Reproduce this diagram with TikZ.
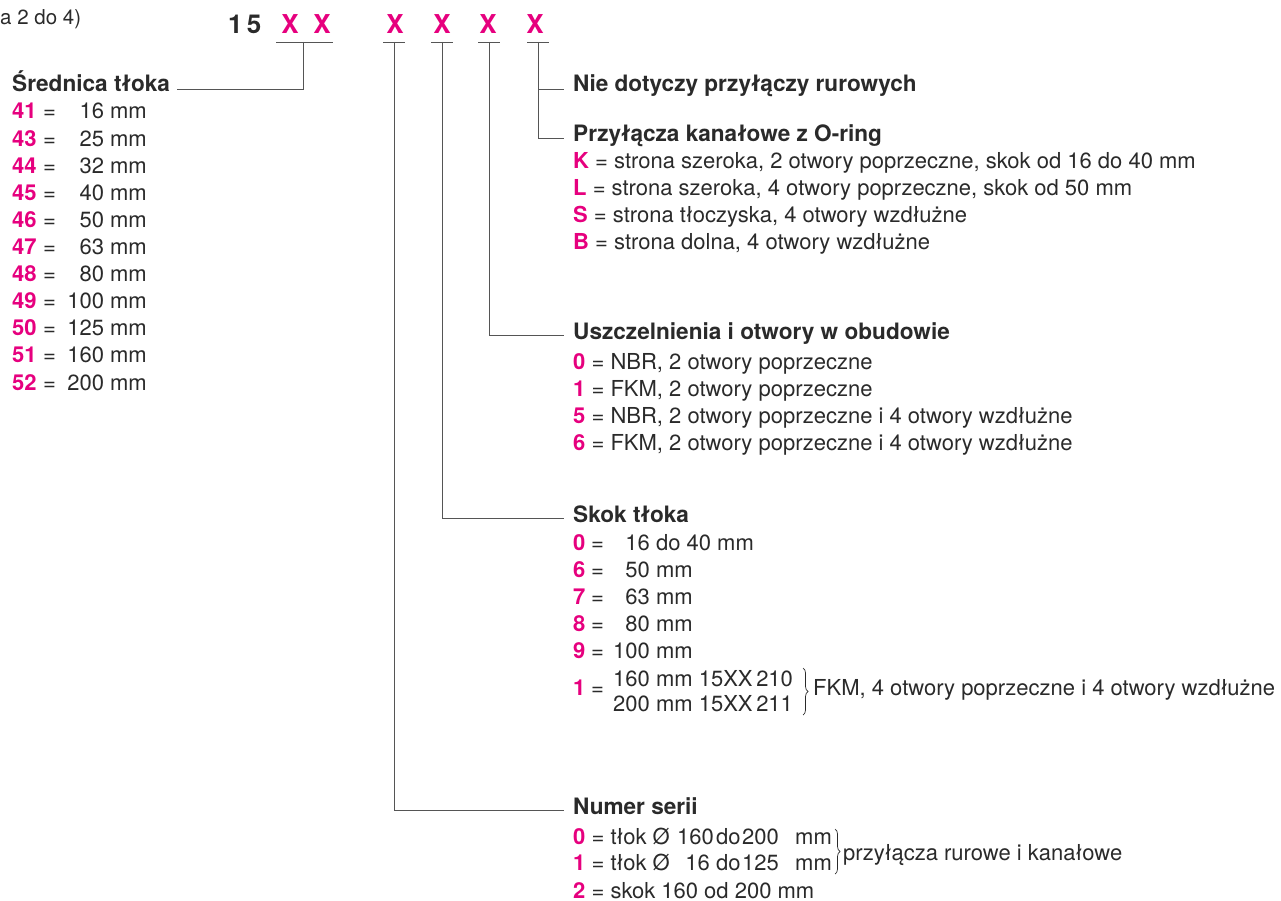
\documentclass[tikz,border=0pt]{standalone}
\usepackage{fontspec}
\setmainfont{TeX Gyre Heros}
\usetikzlibrary{decorations.pathreplacing}
\definecolor{mag}{HTML}{E6007E}
\definecolor{tx}{HTML}{2A2A2A}
\definecolor{lncol}{HTML}{555555}
\newcommand\kbx[1]{\textcolor{mag}{\bfseries #1}}
\tikzset{
  t/.style={anchor=base west, inner sep=0pt, text=tx, font=\fontsize{22}{26}\selectfont},
  tr/.style={t, anchor=base east},
  hd/.style={t, font=\fontsize{22.6}{26}\selectfont\bfseries},
  kb/.style={t, text=mag, font=\fontsize{22}{26}\selectfont\bfseries},
  code/.style={anchor=base, inner sep=0pt, font=\fontsize{26}{30}\selectfont\bfseries},
  lnk/.style={draw=lncol, line width=0.9pt},
  br/.style={draw=tx, line width=0.7pt, decorate, decoration={brace, amplitude=5pt}}
}
\begin{document}
\begin{tikzpicture}[x=1pt,y=-1pt]
\useasboundingbox (0,0) rectangle (1281,901);
% top
\node[t, font=\fontsize{20.5}{24}\selectfont] (note) at (0,25) {a 2 do 4)};
\node[code, anchor=base west, text=tx] (c15) at (228,34) {1\,5};
\foreach \x/\n in {290/1,322/2,395/3,442/4,488/5,535/6}
  \node[code, text=mag] (X\n) at (\x,34) {X};
% underlines and ticks
\coordinate (u12a) at (276,42); \coordinate (u12b) at (333,42); \coordinate (t12) at (303,42);
\draw[lnk] (u12a) -- (u12b);
\foreach \x/\n in {394/3,442/4,489/5,538/6}{
  \coordinate (ua\n) at (\x-11,42); \coordinate (ub\n) at (\x+11,42); \coordinate (t\n) at (\x,42);
  \draw[lnk] (ua\n) -- (ub\n);
}
% left block
\node[hd] (hSred) at (12,92) {Średnica tłoka};
\coordinate (e12) at (177,89);
\draw[lnk] (t12) |- (e12);
\foreach \k/\v [count=\i from 0] in {41/16,43/25,44/32,45/40,46/50,47/63,48/80,49/100,50/125,51/160,52/200}{
  \node[kb] (l\k) at (12,{119+27.1*\i}) {\k};
  \node[t] (le\k) at (43,{119+27.1*\i}) {=};
  \node[tr] (lv\k) at (147,{119+27.1*\i}) {\v\ mm};
}
% right headers
\node[hd] (hNie) at (573,92) {Nie dotyczy przyłączy rurowych};
\node[hd] (hPrz) at (573,142) {Przyłącza kanałowe z O-ring};
\node[hd] (hUsz) at (573,339) {Uszczelnienia i otwory w obudowie};
\node[hd] (hSkok) at (573,522) {Skok tłoka};
\node[hd] (hNum) at (573,814) {Numer serii};
\coordinate (eNie) at (564,89);
\coordinate (ePrz) at (564,138);
\coordinate (eUsz) at (564,335);
\coordinate (eSkok) at (564,518);
\coordinate (eNum) at (564,810);
\draw[lnk] (t6) |- (ePrz);
\draw[lnk] (t6 |- eNie) -- (eNie);
\draw[lnk] (t5) |- (eUsz);
\draw[lnk] (t4) |- (eSkok);
\draw[lnk] (t3) |- (eNum);
% Przylacza list
\node[t] (pK) at (573,169) {\kbx{K} = strona szeroka, 2 otwory poprzeczne, skok od 16 do 40 mm};
\node[t] (pL) at (573,196) {\kbx{L} = strona szeroka, 4 otwory poprzeczne, skok od 50 mm};
\node[t] (pS) at (573,223) {\kbx{S} = strona tłoczyska, 4 otwory wzdłużne};
\node[t] (pB) at (573,250) {\kbx{B} = strona dolna, 4 otwory wzdłużne};
% Uszczelnienia list
\node[t] (u0) at (573,369) {\kbx{0} = NBR, 2 otwory poprzeczne};
\node[t] (u1) at (573,396) {\kbx{1} = FKM, 2 otwory poprzeczne};
\node[t] (u5) at (573,423) {\kbx{5} = NBR, 2 otwory poprzeczne i 4 otwory wzdłużne};
\node[t] (u6) at (573,450) {\kbx{6} = FKM, 2 otwory poprzeczne i 4 otwory wzdłużne};
% Skok list
\foreach \k/\v [count=\i from 0] in {0/\hphantom{0}16 do 40 mm,6/\hphantom{0}50 mm,7/\hphantom{0}63 mm,8/\hphantom{0}80 mm,9/100 mm}{
  \node[kb] (s\k) at (573,{550+27.2*\i}) {\k};
  \node[t] (se\k) at (591,{550+27.2*\i}) {=};
  \node[t] (sv\k) at (613,{550+27.2*\i}) {\v};
}
\node[kb] (s1) at (573,695) {1};
\node[t] (se1) at (591,695) {=};
\node[t] (sv1a) at (613,686) {160 mm 15XX\,210};
\node[t] (sv1b) at (613,711) {200 mm 15XX\,211};
\coordinate (bs1) at (803,668); \coordinate (bs2) at (803,715);
\draw[br] (bs1) -- (bs2);
\node[t] (fkm) at (813,695) {FKM, 4 otwory poprzeczne i 4 otwory wzdłużne};
% Numer serii list
\node[t] (n0) at (573,844) {\kbx{0} = tłok Ø};
\node[t] (n0a) at (677,844) {160};
\node[t] (n0b) at (716,844) {do};
\node[t] (n0c) at (742,844) {200};
\node[t] (n0d) at (795,844) {mm};
\node[t] (n1) at (573,870) {\kbx{1} = tłok Ø};
\node[tr] (n1a) at (710,870) {16};
\node[t] (n1b) at (716,870) {do};
\node[t] (n1c) at (742,870) {125};
\node[t] (n1d) at (795,870) {mm};
\coordinate (bn1) at (835,829); \coordinate (bn2) at (835,874);
\draw[br] (bn1) -- (bn2);
\node[t] (prz) at (843,860) {przyłącza rurowe i kanałowe};
\node[t] (n2) at (573,898) {\kbx{2} = skok 160 od 200 mm};
\end{tikzpicture}
\end{document}
